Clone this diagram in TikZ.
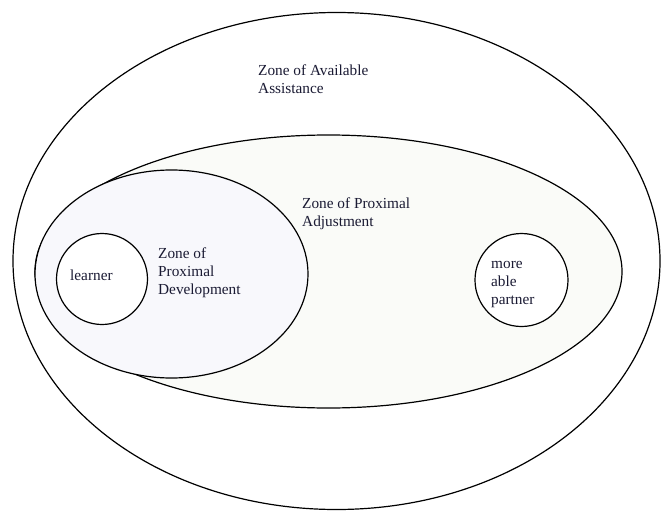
\documentclass[tikz,border=0pt]{standalone}
\usepackage{fontspec}
\setmainfont{Liberation Serif}
\usetikzlibrary{shapes.geometric}
\definecolor{zpdfill}{HTML}{F8F8FC}
\definecolor{zpafill}{HTML}{FAFBF8}
\definecolor{inktext}{HTML}{1A1A33}
\begin{document}
\begin{tikzpicture}[x=1pt,y=-1pt,
  zone/.style={draw=black, line width=1.2pt, ellipse, inner sep=0pt},
  lbl/.style={anchor=north west, inner sep=0pt, align=left, text=inktext,
              font=\fontsize{15.3}{18}\selectfont}]
  \useasboundingbox (0,0) rectangle (661,511);
  % nested zones, outermost first
  \node[zone, fill=white, minimum width=647pt, minimum height=497pt] (zaa) at (336.5,261) {};
  \node[zone, fill=zpafill, minimum width=587pt, minimum height=273pt] (zpa) at (328.5,271.5) {};
  \node[zone, fill=zpdfill, minimum width=273pt, minimum height=208pt] (zpd) at (171.5,274) {};
  \node[zone, fill=white, minimum width=91pt, minimum height=91pt] (learnerc) at (102,279) {};
  \node[zone, fill=white, minimum width=93pt, minimum height=93pt] (partnerc) at (521.5,280) {};
  % labels
  \node[lbl] (tzaa) at (258,65) {Zone of Available\\Assistance};
  \node[lbl] (tzpa) at (302,198) {Zone of Proximal\\Adjustment};
  \node[lbl] (tzpd) at (158,248) {Zone of\\Proximal\\Development};
  \node[lbl] (tlearner) at (70,270) {learner};
  \node[lbl] (tpartner) at (491,261) {more\\able\\partner};
\end{tikzpicture}
\end{document}
